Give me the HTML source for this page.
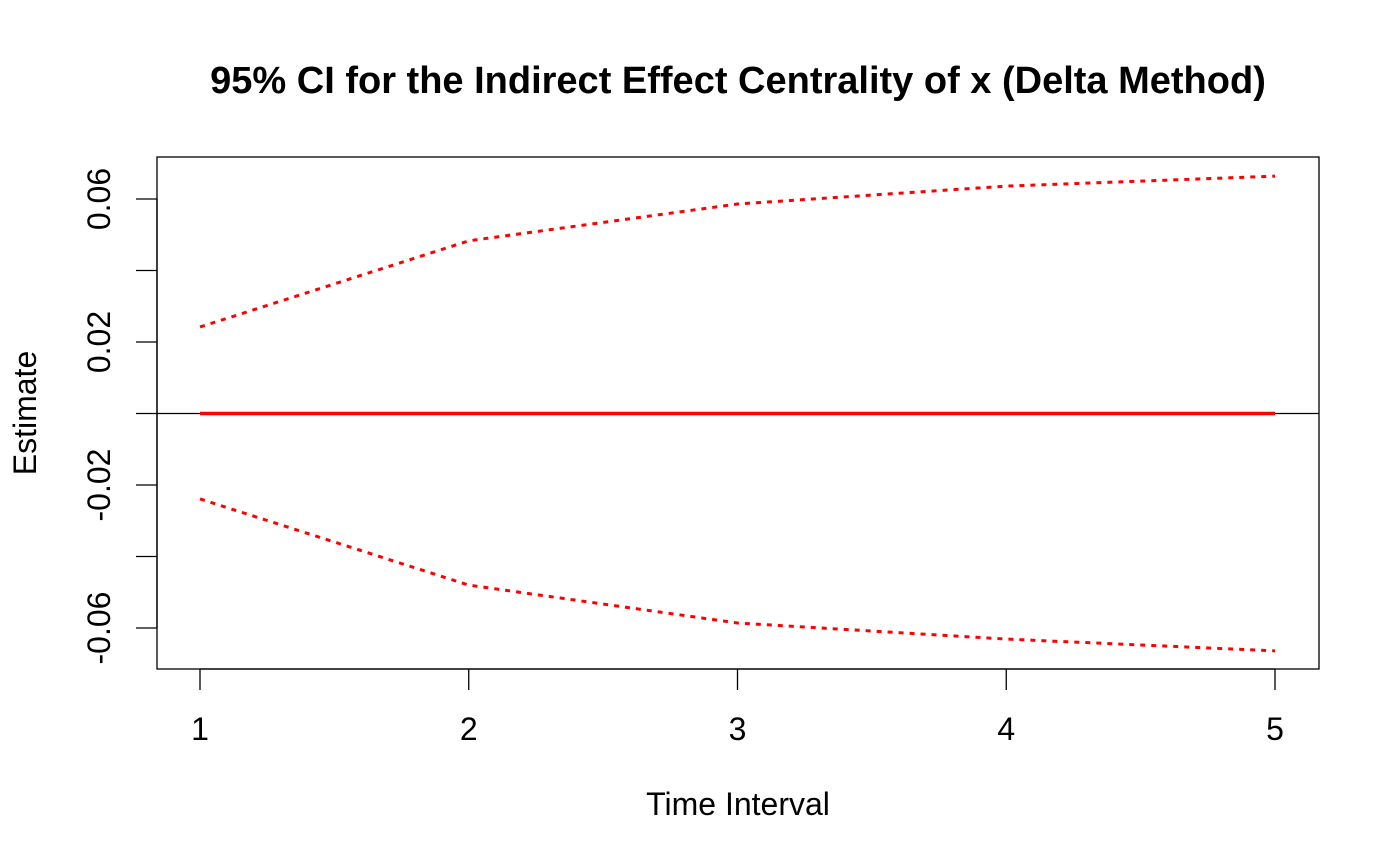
<!DOCTYPE html>
<html>
<head>
<meta charset="utf-8">
<style>
  html, body { margin: 0; padding: 0; background: #fff; }
  svg { display: block; }
  text { font-family: "Liberation Sans", sans-serif; fill: #000; }
</style>
</head>
<body>
<svg id="chart" width="1400" height="866" viewBox="0 0 1400 866">
  <text x="738" y="93" text-anchor="middle" font-size="38" font-weight="bold">95% CI for the Indirect Effect Centrality of x (Delta Method)</text>
  <rect x="157" y="157" width="1162" height="512" fill="none" stroke="#000" stroke-width="1.3"/>
  <g id="xaxis"></g>
  <g id="yaxis"></g>
  <g id="series"></g>
  <text x="738" y="815" text-anchor="middle" font-size="32">Time Interval</text>
  <text x="0" y="0" transform="translate(36,413) rotate(-90)" text-anchor="middle" font-size="32">Estimate</text>
</svg>
<script>
const timeIntervals = [1, 2, 3, 4, 5];
const estimates = [0, 0, 0, 0, 0];
const upperCI = [0.0242, 0.0483, 0.0586, 0.0636, 0.0664];
const lowerCI = [-0.0239, -0.0480, -0.0586, -0.0631, -0.0664];
const xTicks = [1, 2, 3, 4, 5];
const yTicks = [-0.06, -0.04, -0.02, 0, 0.02, 0.04, 0.06];
const yTickLabels = ["-0.06", "", "-0.02", "", "0.02", "", "0.06"];

const NS = "http://www.w3.org/2000/svg";
function xs(v) { return 200 + (v - 1) * 268.75; }
function ys(v) { return 413.5 - v * 3575; }
function mk(tag, attrs, parent) {
  const e = document.createElementNS(NS, tag);
  for (const k in attrs) e.setAttribute(k, attrs[k]);
  parent.appendChild(e);
  return e;
}
const xg = document.getElementById('xaxis');
const yg = document.getElementById('yaxis');
const sg = document.getElementById('series');

let ax = mk('line', {x1: xs(xTicks[0]), x2: xs(xTicks[xTicks.length-1]), y1: 669, y2: 669, stroke: '#000', 'stroke-width': 1.3}, xg);


xTicks.forEach(t => {
  const l = mk('line', {x1: xs(t), x2: xs(t), y1: 669, y2: 690, stroke: '#000', 'stroke-width': 1.3}, xg);
  
  
  const tx = mk('text', {x: xs(t), y: 740, 'text-anchor': 'middle', 'font-size': 32}, xg);
  tx.textContent = t;
  
  
});

let ay = mk('line', {x1: 157, x2: 157, y1: ys(yTicks[0]), y2: ys(yTicks[yTicks.length-1]), stroke: '#000', 'stroke-width': 1.3}, yg);


yTicks.forEach((t, i) => {
  const l = mk('line', {x1: 136, x2: 157, y1: ys(t), y2: ys(t), stroke: '#000', 'stroke-width': 1.3}, yg);
  
  
  if (yTickLabels[i]) {
    const tx = mk('text', {x: 0, y: 0, transform: `translate(110,${ys(t)}) rotate(-90)`, 'text-anchor': 'middle', 'font-size': 32}, yg);
    tx.textContent = yTickLabels[i];
    
    
  }
});

function pts(arr) { return arr.map((v, i) => xs(timeIntervals[i]) + ',' + ys(v)).join(' '); }

const zl = mk('line', {x1: 157, x2: 1319, y1: ys(0), y2: ys(0), stroke: '#000', 'stroke-width': 1.3}, sg);



const est = mk('polyline', {points: pts(estimates), fill: 'none', stroke: '#ff0000', 'stroke-width': 3.5}, sg);



const up = mk('polyline', {points: pts(upperCI), fill: 'none', stroke: '#ff0000', 'stroke-width': 3, 'stroke-dasharray': '5,6'}, sg);



const lo = mk('polyline', {points: pts(lowerCI), fill: 'none', stroke: '#ff0000', 'stroke-width': 3, 'stroke-dasharray': '5,6'}, sg);


</script>
</body>
</html>
